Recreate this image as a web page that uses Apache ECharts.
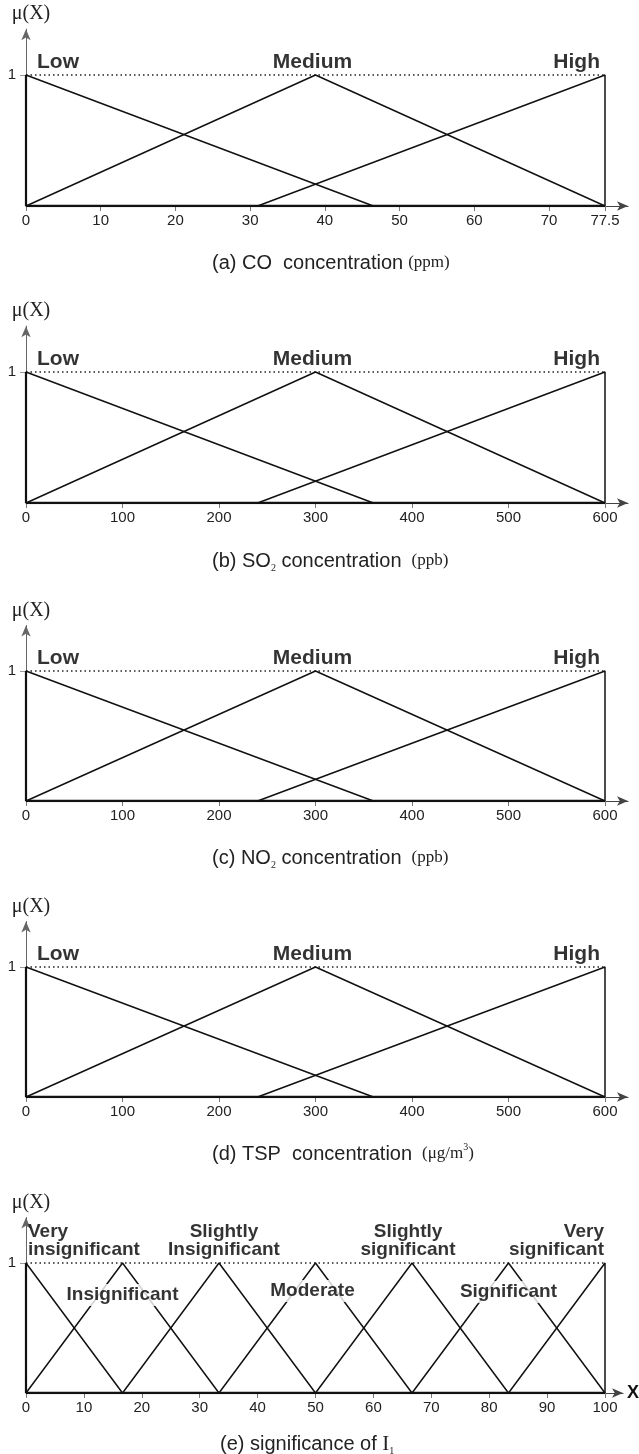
<!DOCTYPE html>
<html><head><meta charset="utf-8">
<script src="https://cdn.jsdelivr.net/npm/echarts@6/dist/echarts.min.js"></script>
<style>html,body{margin:0;padding:0;background:#fff}#c{width:639px;height:1454px}</style>
</head><body><div id="c"></div>
<script>
// ---------- data ----------
const coTicks = [0, 10, 20, 30, 40, 50, 60, 70, 77.5];
const coLow = [[0, 0], [0, 1], [46.5, 0]];
const coMedium = [[0, 0], [38.75, 1], [77.5, 0]];
const coHigh = [[31, 0], [77.5, 1], [77.5, 0]];

const so2Ticks = [0, 100, 200, 300, 400, 500, 600];
const so2Low = [[0, 0], [0, 1], [360, 0]];
const so2Medium = [[0, 0], [300, 1], [600, 0]];
const so2High = [[240, 0], [600, 1], [600, 0]];

const no2Ticks = [0, 100, 200, 300, 400, 500, 600];
const no2Low = [[0, 0], [0, 1], [360, 0]];
const no2Medium = [[0, 0], [300, 1], [600, 0]];
const no2High = [[240, 0], [600, 1], [600, 0]];

const tspTicks = [0, 100, 200, 300, 400, 500, 600];
const tspLow = [[0, 0], [0, 1], [360, 0]];
const tspMedium = [[0, 0], [300, 1], [600, 0]];
const tspHigh = [[240, 0], [600, 1], [600, 0]];

const levelNames = ['Low', 'Medium', 'High'];

const sigTicks = [0, 10, 20, 30, 40, 50, 60, 70, 80, 90, 100];
const sigVeryInsig = [[0, 0], [0, 1], [16.67, 0]];
const sigInsig = [[0, 0], [16.67, 1], [33.33, 0]];
const sigSlightInsig = [[16.67, 0], [33.33, 1], [50, 0]];
const sigModerate = [[33.33, 0], [50, 1], [66.67, 0]];
const sigSlightSig = [[50, 0], [66.67, 1], [83.33, 0]];
const sigSig = [[66.67, 0], [83.33, 1], [100, 0]];
const sigVerySig = [[83.33, 0], [100, 1], [100, 0]];
const sigNames = ['Very\ninsignificant', 'Insignificant', 'Slightly\nInsignificant', 'Moderate',
                  'Slightly\nsignificant', 'Significant', 'Very\nsignificant'];

const captions = [
  '{n|(a) CO  concentration} {u|(ppm)}',
  '{n|(b) SO}{sub|2}{n| concentration}  {u|(ppb)}',
  '{n|(c) NO}{sub|2}{n| concentration}  {u|(ppb)}',
  '{n|(d) TSP  concentration}  {u|(μg/m}{sup|3}{u|)}',
  '{n|(e) significance of }{ser|I}{sub|1}'
];

// ---------- layout / styles ----------
const layout = [
  { one: 75, base: 206, cap: 246, capLeft: 207, tip: 628 },
  { one: 372, base: 503, cap: 544, capLeft: 207, tip: 628 },
  { one: 671, base: 801, cap: 841, capLeft: 207, tip: 628 },
  { one: 967, base: 1097, cap: 1137, capLeft: 207, tip: 628 },
  { one: 1263, base: 1393, cap: 1427, capLeft: 215, tip: 623 }
];
const GL = 26, DATA_W = 579, YMAX = 1.35;
const INK = '#111';
const SANS = '"Liberation Sans", Arial, sans-serif';
const SERIF = '"Liberation Serif", "Times New Roman", serif';

const panels = [
  { ticks: coTicks, max: 77.5, funcs: [coLow, coMedium, coHigh], names: levelNames },
  { ticks: so2Ticks, max: 600, funcs: [so2Low, so2Medium, so2High], names: levelNames },
  { ticks: no2Ticks, max: 600, funcs: [no2Low, no2Medium, no2High], names: levelNames },
  { ticks: tspTicks, max: 600, funcs: [tspLow, tspMedium, tspHigh], names: levelNames },
  { ticks: sigTicks, max: 100, funcs: [sigVeryInsig, sigInsig, sigSlightInsig, sigModerate, sigSlightSig, sigSig, sigVerySig], names: sigNames }
];

// label placement per panel (offsets in px from the function peak)
const levelLabelPos = [
  { pos: [11, -13], align: 'left' },
  { pos: [-3, -13], align: 'center' },
  { pos: [-5, -13], align: 'right' }
];
const sigLabelPos = [
  { pos: [2, -22], align: 'left', above: true },
  { pos: [0, 32], align: 'center', above: false },
  { pos: [5, -22], align: 'center', above: true },
  { pos: [-3, 28], align: 'center', above: false },
  { pos: [-4, -22], align: 'center', above: true },
  { pos: [0, 29], align: 'center', above: false },
  { pos: [-1, -22], align: 'right', above: true }
];

const grid = [], xAxis = [], yAxis = [], series = [], title = [];

panels.forEach((p, i) => {
  const L = layout[i];
  const unit = L.base - L.one;
  const gw = L.tip - GL;
  grid.push({ left: GL, width: gw, top: L.base - YMAX * unit, height: YMAX * unit, containLabel: false, outerBoundsMode: 'none' });
  const isSig = i === 4;
  xAxis.push({
    gridIndex: i, type: 'value', min: 0, max: p.max * gw / DATA_W,
    name: isSig ? 'X' : '', nameLocation: 'end', nameGap: 4,
    nameTextStyle: { fontFamily: SANS, fontWeight: 'bold', fontSize: 18, color: INK, align: 'left', verticalAlign: 'middle' },
    axisLine: { show: true, symbol: ['none', 'arrow'], symbolSize: [7, 11], lineStyle: { color: '#444', width: 1 } },
    axisTick: { show: true, customValues: p.ticks, length: 5, lineStyle: { color: '#777', width: 1 } },
    axisLabel: { customValues: p.ticks, margin: 7, fontSize: 15, color: '#222', fontFamily: SANS },
    splitLine: { show: false }
  });
  yAxis.push({
    gridIndex: i, type: 'value', min: 0, max: YMAX,
    name: 'μ(X)', nameLocation: 'end', nameGap: 5,
    nameTextStyle: { fontFamily: SERIF, fontSize: 20, color: '#222', padding: [0, 0, 0, 10] },
    axisLine: { show: true, symbol: ['none', 'arrow'], symbolSize: [7, 11], lineStyle: { color: '#666', width: 1 } },
    axisTick: { show: true, customValues: [1], length: 6, lineStyle: { color: '#999' } },
    axisLabel: { customValues: [1], margin: 10, fontSize: 15, color: '#222', fontFamily: SANS },
    splitLine: { show: false }
  });

  // level-1 dotted reference and thick base line
  series.push({
    type: 'line', xAxisIndex: i, yAxisIndex: i, data: [[0, 1], [p.max, 1]], symbol: 'none', silent: true,
    lineStyle: { color: '#222', width: 1.6, type: [1.5, 3] }, z: 2
  });
  series.push({
    type: 'line', xAxisIndex: i, yAxisIndex: i, data: [[0, 0], [p.max, 0]], symbol: 'none', silent: true,
    lineStyle: { color: INK, width: 2.6 }, z: 3
  });
  series.push({
    type: 'line', xAxisIndex: i, yAxisIndex: i, data: [[0, 0], [0, 1]], symbol: 'none', silent: true,
    lineStyle: { color: INK, width: 2.2 }, z: 3
  });

  // membership functions
  p.funcs.forEach((f, k) => {
    series.push({
      type: 'line', name: p.names[k].replace('\n', ' '), xAxisIndex: i, yAxisIndex: i, data: f,
      symbol: 'none', silent: true, lineStyle: { color: INK, width: 1.5 }, z: 4
    });
  });

  // labels at each function's peak
  const labelData = p.funcs.map((f, k) => {
    const peak = f.find(d => d[1] === 1);
    const lp = isSig ? sigLabelPos[k] : levelLabelPos[k];
    const boxed = isSig && !lp.above;
    return {
      value: peak,
      label: {
        show: true, formatter: p.names[k], position: lp.pos, align: lp.align, verticalAlign: 'middle',
        fontFamily: SANS, fontWeight: 'bold', fontSize: isSig ? 19 : 21, lineHeight: isSig ? 18 : 22,
        color: '#000',
        backgroundColor: boxed ? '#fff' : 'transparent', padding: boxed ? [2, 4] : 0
      }
    };
  });
  series.push({
    type: 'scatter', xAxisIndex: i, yAxisIndex: i, symbolSize: 0, silent: true, z: 10,
    data: labelData
  });

  title.push({
    text: captions[i], left: L.capLeft, top: L.cap,
    textStyle: {
      fontWeight: 'normal',
      rich: {
        n: { fontFamily: SANS, fontWeight: 'normal', fontSize: 20, color: '#222', lineHeight: 24 },
        u: { fontFamily: SERIF, fontWeight: 'normal', fontSize: 17, color: '#222', lineHeight: 24 },
        ser: { fontFamily: SERIF, fontWeight: 'normal', fontSize: 21, color: '#222', lineHeight: 24 },
        sub: { fontFamily: SERIF, fontWeight: 'normal', fontSize: 10, color: '#222', lineHeight: 10, verticalAlign: 'bottom' },
        sup: { fontFamily: SERIF, fontWeight: 'normal', fontSize: 10, color: '#222', lineHeight: 10, verticalAlign: 'top' }
      }
    }
  });
});

const chart = echarts.init(document.getElementById('c'), null, { renderer: 'canvas' });
chart.setOption({
  backgroundColor: '#fff',
  animation: false,
  title, grid, xAxis, yAxis, series
});
</script>
</body></html>
